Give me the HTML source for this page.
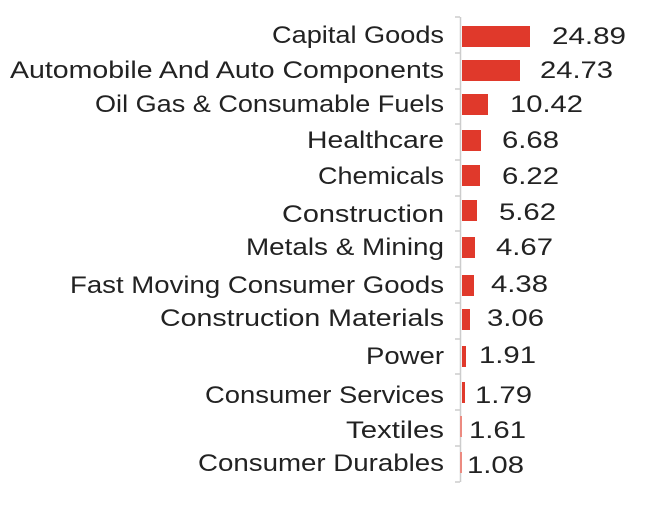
<!DOCTYPE html>
<html><head><meta charset="utf-8"><style>
html,body{margin:0;padding:0;background:#fff;}
svg{display:block;}
text{font-family:"Liberation Sans",sans-serif;font-size:24px;fill:#222;}
</style></head><body>
<svg width="648" height="506" viewBox="0 0 648 506" xmlns="http://www.w3.org/2000/svg">
<line x1="460.5" y1="17" x2="460.5" y2="482" stroke="#ccc" stroke-width="1.5"/>
<g stroke="#ccc" stroke-width="1.5">
<line x1="455" y1="17" x2="460" y2="17"/><line x1="455" y1="53" x2="460" y2="53"/><line x1="455" y1="89" x2="460" y2="89"/><line x1="455" y1="124" x2="460" y2="124"/><line x1="455" y1="160" x2="460" y2="160"/><line x1="455" y1="196" x2="460" y2="196"/><line x1="455" y1="231" x2="460" y2="231"/><line x1="455" y1="267" x2="460" y2="267"/><line x1="455" y1="303" x2="460" y2="303"/><line x1="455" y1="339" x2="460" y2="339"/><line x1="455" y1="374" x2="460" y2="374"/><line x1="455" y1="410" x2="460" y2="410"/><line x1="455" y1="446" x2="460" y2="446"/><line x1="455" y1="482" x2="460" y2="482"/>
</g>
<g fill="#e0392b">
<rect x="462" y="26" width="68" height="21"/>
<rect x="462" y="60" width="58" height="21"/>
<rect x="462" y="94" width="26" height="21"/>
<rect x="462" y="130" width="19" height="21"/>
<rect x="462" y="165" width="18" height="21"/>
<rect x="462" y="200" width="15" height="21"/>
<rect x="462" y="237" width="13" height="21"/>
<rect x="462" y="275" width="12" height="21"/>
<rect x="462" y="309" width="8" height="21"/>
<rect x="462" y="346" width="4" height="21"/>
<rect x="462" y="382" width="3" height="21"/>
<rect x="460" y="416" width="2" height="21" fill="#ec8a80"/>
<rect x="460" y="452" width="2" height="21" fill="#ec8a80"/>
</g>
<g text-anchor="start">
<text x="272" y="43" textLength="172" lengthAdjust="spacingAndGlyphs">Capital Goods</text>
<text x="10" y="78" textLength="434" lengthAdjust="spacingAndGlyphs">Automobile And Auto Components</text>
<text x="95" y="112" textLength="349" lengthAdjust="spacingAndGlyphs">Oil Gas &amp; Consumable Fuels</text>
<text x="307" y="148" textLength="137" lengthAdjust="spacingAndGlyphs">Healthcare</text>
<text x="318" y="184" textLength="126" lengthAdjust="spacingAndGlyphs">Chemicals</text>
<text x="282" y="222" textLength="162" lengthAdjust="spacingAndGlyphs">Construction</text>
<text x="246" y="255" textLength="198" lengthAdjust="spacingAndGlyphs">Metals &amp; Mining</text>
<text x="70" y="293" textLength="374" lengthAdjust="spacingAndGlyphs">Fast Moving Consumer Goods</text>
<text x="160" y="326" textLength="284" lengthAdjust="spacingAndGlyphs">Construction Materials</text>
<text x="366" y="364" textLength="78" lengthAdjust="spacingAndGlyphs">Power</text>
<text x="205" y="403" textLength="239" lengthAdjust="spacingAndGlyphs">Consumer Services</text>
<text x="346" y="438" textLength="98" lengthAdjust="spacingAndGlyphs">Textiles</text>
<text x="198" y="471" textLength="246" lengthAdjust="spacingAndGlyphs">Consumer Durables</text>
<text x="552" y="44" textLength="74" lengthAdjust="spacingAndGlyphs">24.89</text>
<text x="540" y="78" textLength="73" lengthAdjust="spacingAndGlyphs">24.73</text>
<text x="510" y="112" textLength="73" lengthAdjust="spacingAndGlyphs">10.42</text>
<text x="502" y="148" textLength="57" lengthAdjust="spacingAndGlyphs">6.68</text>
<text x="502" y="184" textLength="57" lengthAdjust="spacingAndGlyphs">6.22</text>
<text x="499" y="220" textLength="57" lengthAdjust="spacingAndGlyphs">5.62</text>
<text x="496" y="255" textLength="57" lengthAdjust="spacingAndGlyphs">4.67</text>
<text x="491" y="292" textLength="57" lengthAdjust="spacingAndGlyphs">4.38</text>
<text x="487" y="326" textLength="57" lengthAdjust="spacingAndGlyphs">3.06</text>
<text x="479" y="363" textLength="57" lengthAdjust="spacingAndGlyphs">1.91</text>
<text x="475" y="403" textLength="57" lengthAdjust="spacingAndGlyphs">1.79</text>
<text x="469" y="438" textLength="57" lengthAdjust="spacingAndGlyphs">1.61</text>
<text x="467" y="473" textLength="57" lengthAdjust="spacingAndGlyphs">1.08</text>
</g>
</svg>
</body></html>
